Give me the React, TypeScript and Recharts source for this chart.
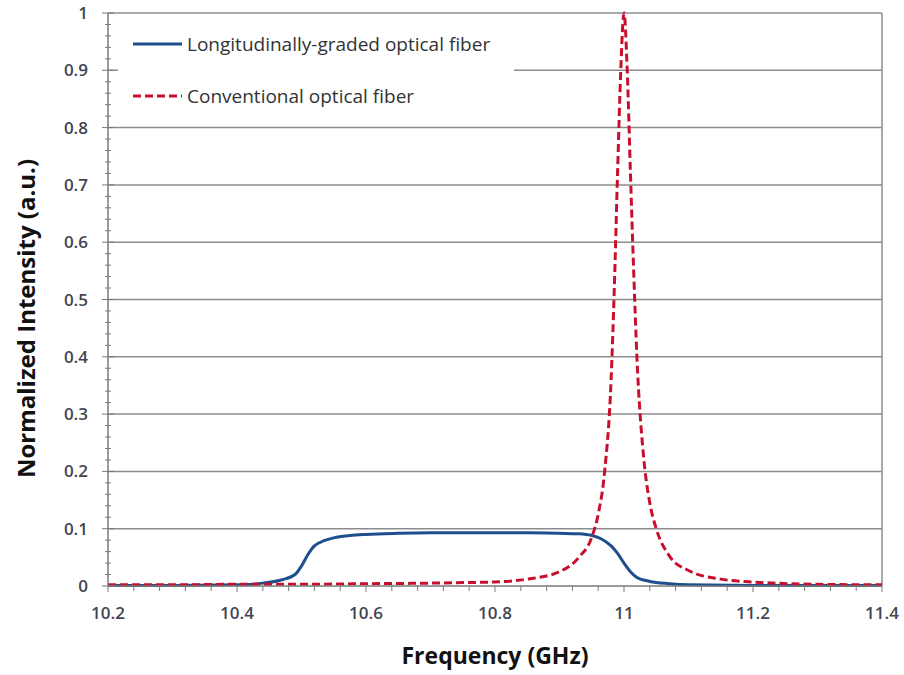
import React from "react";
import {
  LineChart,
  Line,
  XAxis,
  YAxis,
  CartesianGrid,
} from "recharts";

// longitudinally-graded fiber (blue, solid)
const gradedFreq = [
  10.2, 10.3, 10.4, 10.44, 10.47, 10.49, 10.5, 10.51, 10.52, 10.535, 10.55,
  10.575, 10.6, 10.65, 10.7, 10.8, 10.85, 10.9, 10.93, 10.95, 10.965, 10.98,
  10.99, 11.0, 11.01, 11.02, 11.04, 11.07, 11.1, 11.2, 11.3, 11.4,
];
const gradedIntensity = [
  0.001, 0.001, 0.002, 0.005, 0.011, 0.02, 0.035, 0.055, 0.07, 0.079, 0.084,
  0.088, 0.09, 0.092, 0.093, 0.093, 0.093, 0.092, 0.091, 0.088, 0.082, 0.07,
  0.057, 0.04, 0.025, 0.015, 0.008, 0.004, 0.002, 0.001, 0.001, 0.001,
];

// conventional fiber (red, dashed)
const convFreq = [
  10.2, 10.3, 10.4, 10.5, 10.6, 10.7, 10.75, 10.8, 10.85, 10.9, 10.93, 10.95,
  10.96, 10.97, 10.98, 10.985, 10.99, 10.995, 11.0, 11.005, 11.01, 11.015,
  11.02, 11.03, 11.04, 11.05, 11.07, 11.1, 11.15, 11.2, 11.3, 11.4,
];
const convIntensity = [
  0.002, 0.002, 0.003, 0.003, 0.004, 0.005, 0.006, 0.007, 0.012, 0.025, 0.05,
  0.085, 0.125, 0.2, 0.36, 0.52, 0.72, 0.9, 1.0, 0.9, 0.72, 0.55, 0.4, 0.23,
  0.145, 0.1, 0.053, 0.027, 0.012, 0.007, 0.003, 0.002,
];

const xMajorTicks = [10.2, 10.4, 10.6, 10.8, 11, 11.2, 11.4];
const yMajorTicks = [0, 0.1, 0.2, 0.3, 0.4, 0.5, 0.6, 0.7, 0.8, 0.9, 1];

const X_MINOR = 0.04;
const Y_MINOR = 0.02;

const minorTicks = (lo: number, hi: number, step: number) => {
  const out: number[] = [];
  const n = Math.round((hi - lo) / step);
  for (let i = 0; i <= n; i++) out.push(+(lo + i * step).toFixed(3));
  return out;
};

const xTicks = minorTicks(10.2, 11.4, X_MINOR);
const yTicks = minorTicks(0, 1, Y_MINOR);

const isMajor = (v: number, majors: number[]) =>
  majors.some((m) => Math.abs(m - v) < 1e-6);

// merge both series into one table keyed by frequency
const allFreq = Array.from(new Set([...gradedFreq, ...convFreq])).sort(
  (a, b) => a - b
);
const data = allFreq.map((f) => {
  const gi = gradedFreq.indexOf(f);
  const ci = convFreq.indexOf(f);
  return {
    freq: f,
    graded: gi >= 0 ? gradedIntensity[gi] : null,
    conv: ci >= 0 ? convIntensity[ci] : null,
  };
});

const FONT = "'Open Sans', Lato, sans-serif";
const TICK_COLOR = "#3f4552";
const AXIS_COLOR = "#7a7a7a";

const YTick = (props: any) => {
  const { x, y, payload } = props;
  const major = isMajor(payload.value, yMajorTicks);
  return (
    <g>
      <line
        x1={major ? x - 6 : x - 3}
        x2={major ? x + 6 : x + 3}
        y1={y}
        y2={y}
        stroke={AXIS_COLOR}
        strokeWidth={1}
      />
      {major && (
        <text
          x={x - 20}
          y={y}
          dy={6}
          textAnchor="end"
          fontSize={17}
          fontWeight={600}
          fontFamily={FONT}
          fill={TICK_COLOR}
        >
          {payload.value}
        </text>
      )}
    </g>
  );
};

const XTick = (props: any) => {
  const { x, y, payload } = props;
  const major = isMajor(payload.value, xMajorTicks);
  return (
    <g>
      <line
        x1={x}
        x2={x}
        y1={y}
        y2={y + (major ? 6 : 5)}
        stroke={AXIS_COLOR}
        strokeWidth={1}
      />
      {major && (
        <text
          x={x}
          y={y + 33}
          textAnchor="middle"
          fontSize={17}
          fontWeight={600}
          fontFamily={FONT}
          fill={TICK_COLOR}
        >
          {payload.value}
        </text>
      )}
    </g>
  );
};

const YTitle = (props: any) => {
  const { viewBox } = props;
  const cx = 25;
  const cy = viewBox.y + viewBox.height / 2 + 19;
  return (
    <text
      x={cx}
      y={cy}
      transform={`rotate(-90 ${cx} ${cy})`}
      textAnchor="middle"
      dominantBaseline="central"
      fontFamily={FONT}
      fontWeight={700}
      fontSize={24}
      fill="#111"
    >
      Normalized Intensity (a.u.)
    </text>
  );
};

const legendItems = [
  { name: "Longitudinally-graded optical fiber", color: "#1f4e8c", dash: "" },
  { name: "Conventional optical fiber", color: "#c8102e", dash: "8 4" },
];

export default function App() {
  return (
    <div style={{ position: "absolute", left: 0, top: 0, width: 904, height: 675, background: "#fff" }}>
      <LineChart
        width={904}
        height={675}
        data={data}
        margin={{ top: 13, right: 22, left: 0, bottom: 0 }}
      >
        <CartesianGrid
          stroke="#8c8c8c"
          strokeWidth={1.5}
          horizontalValues={[0.1, 0.2, 0.3, 0.4, 0.5, 0.6, 0.7, 0.8, 0.9, 1]}
          verticalValues={[11.4]}
        />
        <XAxis
          dataKey="freq"
          type="number"
          domain={[10.2, 11.4]}
          ticks={xTicks}
          interval={0}
          tick={<XTick />}
          tickLine={false}
          tickSize={0}
          tickMargin={0}
          height={89}
          stroke={AXIS_COLOR}
          strokeWidth={1.5}
          label={{
            value: "Frequency (GHz)",
            position: "insideBottom",
            offset: 11,
            style: { fontFamily: FONT, fontWeight: 700, fontSize: 23, fill: "#111" },
          }}
        />
        <YAxis
          type="number"
          domain={[0, 1]}
          ticks={yTicks}
          interval={0}
          tick={<YTick />}
          tickLine={false}
          tickSize={0}
          tickMargin={0}
          width={108}
          stroke={AXIS_COLOR}
          strokeWidth={1.5}
          label={{ content: <YTitle /> }}
        />
        <Line
          type="monotone"
          dataKey="graded"
          name="Longitudinally-graded optical fiber"
          stroke="#1f4e8c"
          strokeWidth={3}
          dot={false}
          connectNulls
          isAnimationActive={false}
        />
        <Line
          type="monotone"
          dataKey="conv"
          name="Conventional optical fiber"
          stroke="#c8102e"
          strokeWidth={3}
          strokeDasharray="8 4"
          dot={false}
          connectNulls
          isAnimationActive={false}
        />
      </LineChart>
      <div
        style={{
          position: "absolute",
          left: 118,
          top: 28,
          width: 396,
          height: 90,
          background: "#fff",
          fontFamily: FONT,
          fontSize: 19,
          color: "#333",
        }}
      >
        {legendItems.map((it, i) => (
          <div
            key={it.name}
            style={{ position: "absolute", left: 14, top: i === 0 ? 3 : 55, display: "flex", alignItems: "center" }}
          >
            <svg width={52} height={8}>
              <line
                x1={1}
                x2={50}
                y1={4}
                y2={4}
                stroke={it.color}
                strokeWidth={3}
                strokeDasharray={it.dash || undefined}
              />
            </svg>
            <span style={{ marginLeft: 3 }}>{it.name}</span>
          </div>
        ))}
      </div>
    </div>
  );
}
